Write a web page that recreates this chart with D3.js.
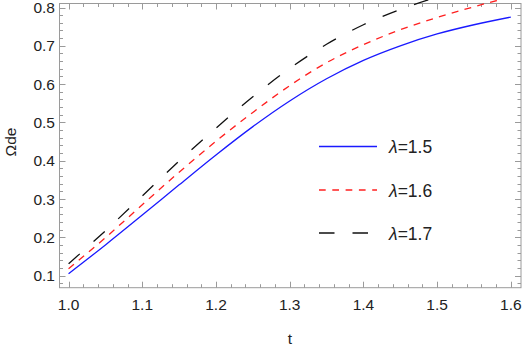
<!DOCTYPE html>
<html>
<head>
<meta charset="utf-8">
<script src="https://cdn.jsdelivr.net/npm/d3@7"></script>
<style>
  body { margin: 0; background: #fff; }
  svg text { font-family: "Liberation Sans", Arial, sans-serif; fill: #222; }
</style>
</head>
<body>
<div id="chart"></div>
<script>
// values
let tValues = [1.00, 1.05, 1.10, 1.15, 1.20, 1.25, 1.30, 1.35, 1.40, 1.45, 1.50, 1.55, 1.60];
let omegaL15 = [0.105, 0.180, 0.258, 0.337, 0.415, 0.489, 0.556, 0.614, 0.662, 0.700, 0.731, 0.755, 0.775];
let omegaL16 = [0.118, 0.199, 0.285, 0.370, 0.451, 0.526, 0.596, 0.656, 0.703, 0.742, 0.774, 0.802, 0.828];
let omegaL17 = [0.131, 0.217, 0.308, 0.399, 0.485, 0.567, 0.641, 0.704, 0.755, 0.795, 0.827, 0.853, 0.875];
let legendLabels = ["λ=1.5", "λ=1.6", "λ=1.7"];
let xTicks = [1.0, 1.1, 1.2, 1.3, 1.4, 1.5, 1.6];
let yTicks = [0.1, 0.2, 0.3, 0.4, 0.5, 0.6, 0.7, 0.8];

let W = 523, H = 346;
let frame = {left: 59.5, right: 521, top: 3.5, bottom: 287.7};

let svg = d3.select("#chart")
  .append("svg")
  .attr("width", W)
  .attr("height", H);

let x = d3.scaleLinear()
  .domain([0.9877, 1.6138])
  .range([frame.left, frame.right]);

let y = d3.scaleLinear()
  .domain([0.0684, 0.8105])
  .range([frame.bottom, frame.top]);

let frameColor = "#9a9a9a";

// frame
svg.append("rect")
  .attr("x", frame.left).attr("y", frame.top)
  .attr("width", frame.right - frame.left).attr("height", frame.bottom - frame.top)
  .attr("fill", "none")
  .attr("stroke", frameColor)
  .attr("stroke-width", 1);

// ticks on all four sides
let xMinor = d3.range(0, 32).map(i => 0.98 + i * 0.02).filter(v => v >= 0.9877 && v <= 1.6138);
let yMinor = d3.range(0, 38).map(i => 0.08 + i * 0.02).filter(v => v >= 0.0684 && v <= 0.8105);
let isMajor = v => Math.abs(v * 10 - Math.round(v * 10)) < 1e-6;

let ticks = svg.append("g").attr("stroke", frameColor).attr("stroke-width", 1);
xMinor.forEach(v => {
  let len = isMajor(v) ? 6 : 3.5;
  let px = Math.round(x(v)) + 0.5;
  ticks.append("line").attr("x1", px).attr("x2", px).attr("y1", frame.bottom).attr("y2", frame.bottom - len);
  ticks.append("line").attr("x1", px).attr("x2", px).attr("y1", frame.top).attr("y2", frame.top + len);
});
yMinor.forEach(v => {
  let len = isMajor(v) ? 6 : 3.5;
  let py = Math.round(y(v)) + 0.5;
  ticks.append("line").attr("y1", py).attr("y2", py).attr("x1", frame.left).attr("x2", frame.left + len);
  ticks.append("line").attr("y1", py).attr("y2", py).attr("x1", frame.right).attr("x2", frame.right - len);
});

// tick labels
svg.append("g").selectAll("text")
  .data(xTicks)
  .enter().append("text")
  .attr("x", d => x(d))
  .attr("y", 310)
  .attr("text-anchor", "middle")
  .attr("font-size", 15.5)
  .text(d => d.toFixed(1));

svg.append("g").selectAll("text")
  .data(yTicks)
  .enter().append("text")
  .attr("x", 55)
  .attr("y", d => y(d) + 5.5)
  .attr("text-anchor", "end")
  .attr("font-size", 15.5)
  .text(d => d.toFixed(1));

// axis labels
svg.append("text")
  .attr("x", 290).attr("y", 344)
  .attr("text-anchor", "middle")
  .attr("font-size", 15.5)
  .text("t");

svg.append("text")
  .attr("transform", "translate(16,142) rotate(-90)")
  .attr("text-anchor", "middle")
  .attr("font-size", 15.5)
  .text("Ωde");

// curves
let series = [
  {values: omegaL15, color: "#1a1aff", dash: null},
  {values: omegaL16, color: "#ff2020", dash: "7,6.3"},
  {values: omegaL17, color: "#111111", dash: "15,18.5"}
];

// curves run a little past the top frame, up to the image edge
svg.append("clipPath").attr("id", "plotClip")
  .append("rect")
  .attr("x", frame.left).attr("y", 0)
  .attr("width", frame.right - frame.left).attr("height", frame.bottom);

let line = d3.line()
  .x((d, i) => x(tValues[i]))
  .y(d => y(d))
  .curve(d3.curveMonotoneX);

let curves = svg.append("g").attr("clip-path", "url(#plotClip)");
series.forEach(s => {
  curves.append("path")
    .attr("d", line(s.values))
    .attr("fill", "none")
    .attr("stroke", s.color)
    .attr("stroke-width", 1.3)
    .attr("stroke-dasharray", s.dash);
});

// legend
let legendY = [146.5, 190, 233];
series.forEach((s, i) => {
  svg.append("line")
    .attr("x1", 319).attr("x2", 377)
    .attr("y1", legendY[i]).attr("y2", legendY[i])
    .attr("stroke", s.color)
    .attr("stroke-width", 1.3)
    .attr("stroke-dasharray", i == 1 ? "6.7,6.6" : s.dash == null ? null : "15.5,18");
  let txt = svg.append("text")
    .attr("x", 389).attr("y", legendY[i] + 6.5)
    .attr("font-size", 17.5);
  txt.append("tspan").attr("font-style", "italic").text(legendLabels[i].slice(0, 1));
  txt.append("tspan").text(legendLabels[i].slice(1));
});
</script>
</body>
</html>
